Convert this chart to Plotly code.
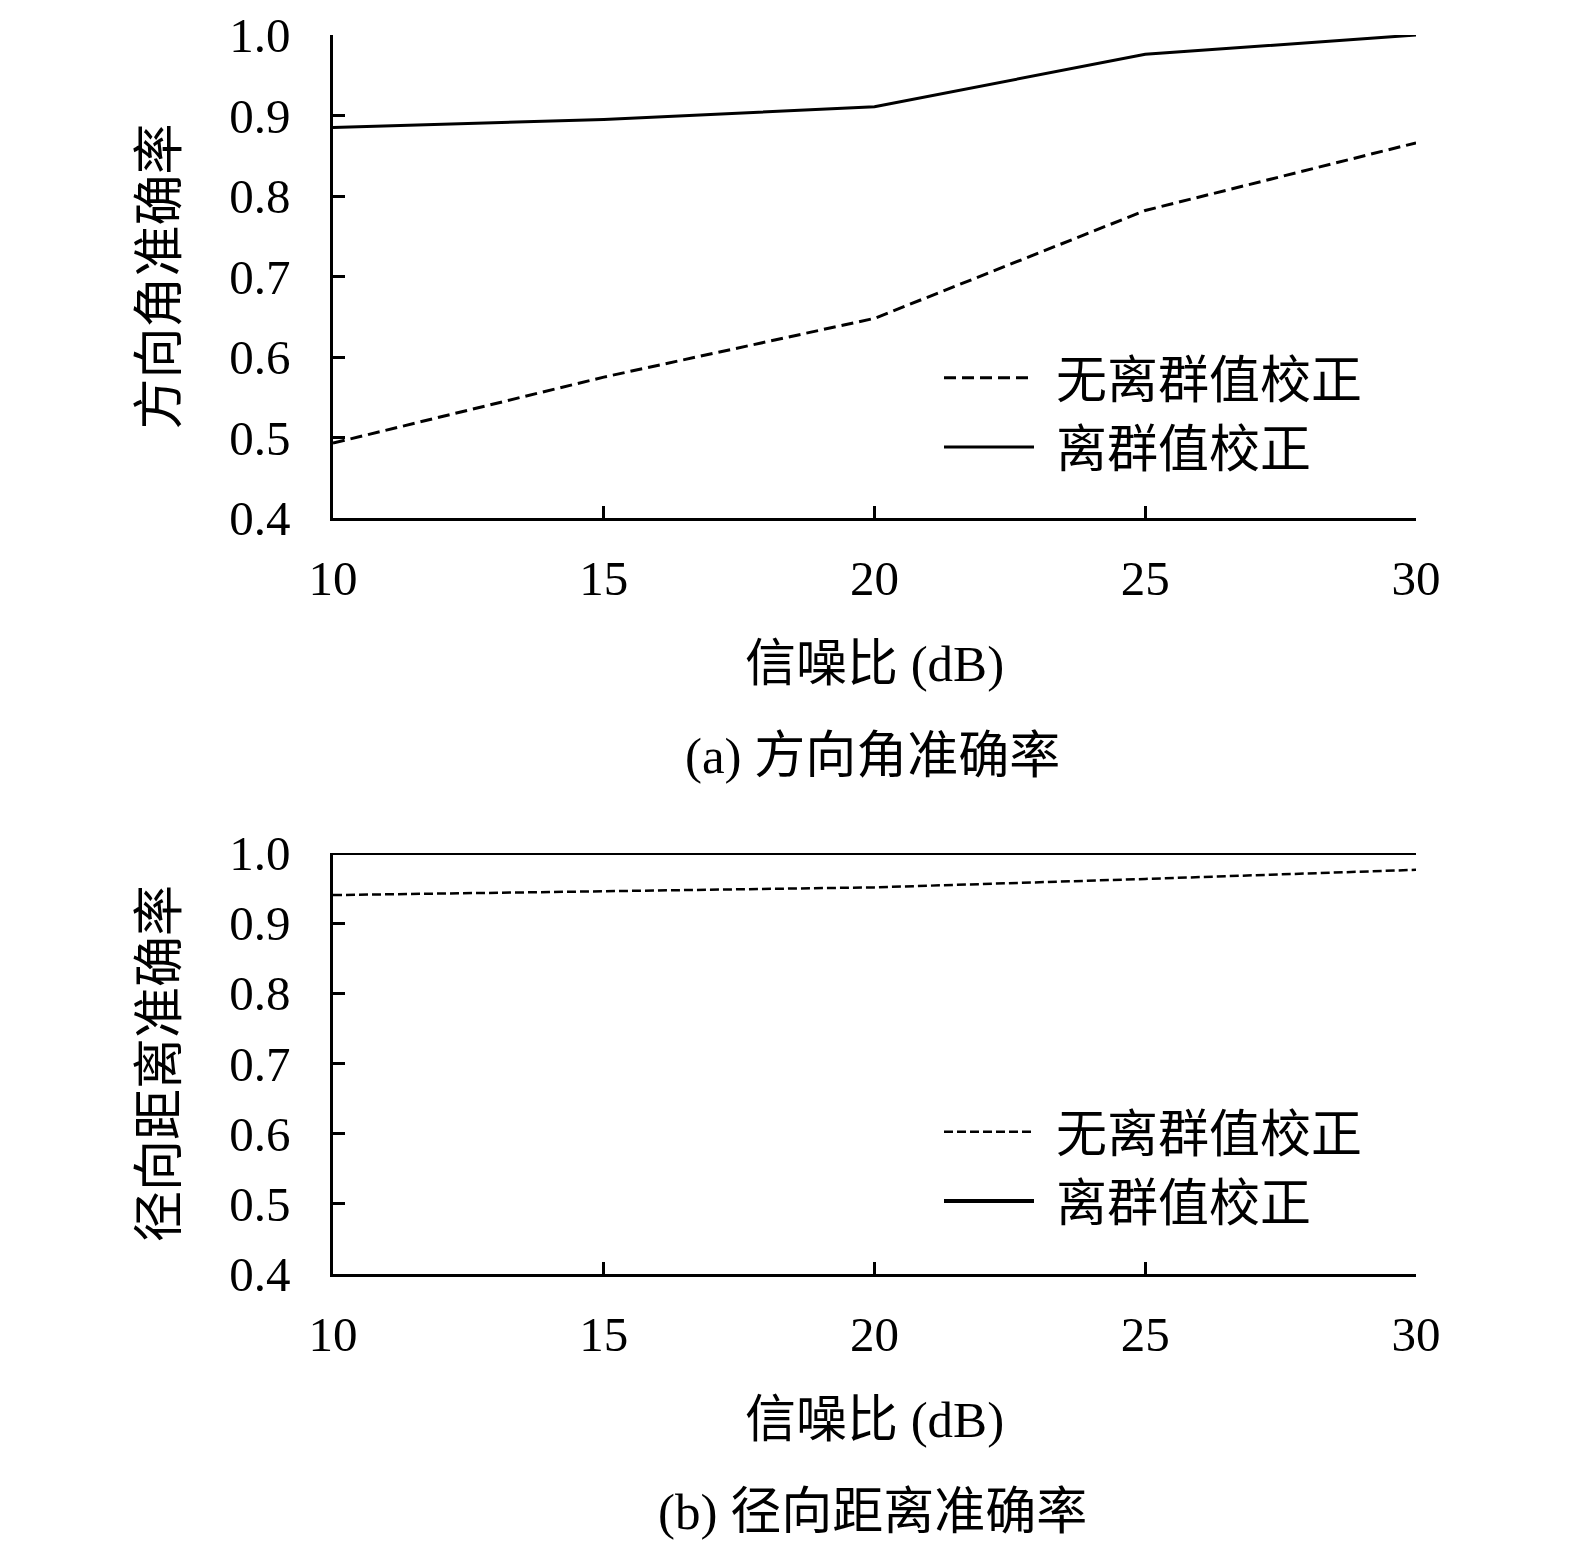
import plotly.graph_objects as go

# SNR (dB) on the x axis
snr = [10, 15, 20, 25, 30]

# (a) azimuth accuracy
az_no_fix = [0.493, 0.575, 0.648, 0.782, 0.866]
az_fix = [0.885, 0.895, 0.911, 0.976, 1.0]

# (b) radial distance accuracy
rd_no_fix = [0.940, 0.946, 0.951, 0.963, 0.976]
rd_fix = [1.0, 1.0, 1.0, 1.0, 1.0]

name_no_fix = "无离群值校正"
name_fix = "离群值校正"
x_title = "信噪比 (dB)"
y_title_a = "方向角准确率"
y_title_b = "径向距离准确率"
cap_a = "(a) 方向角准确率"
cap_b = "(b) 径向距离准确率"

W, H = 1575, 1554
FONT = "Liberation Serif, Noto Sans CJK SC, serif"
GAP = "\u2004"  # space between legend line and label


def px_x(p):
    return p / W


def px_y(p):
    return 1 - p / H


fig = go.Figure()

fig.add_trace(go.Scatter(x=snr, y=az_no_fix, name=GAP + name_no_fix, mode="lines",
                         line=dict(color="black", width=3, dash="12px,6px"),
                         xaxis="x", yaxis="y", legend="legend", cliponaxis=False))
fig.add_trace(go.Scatter(x=snr, y=az_fix, name=GAP + name_fix, mode="lines",
                         line=dict(color="black", width=3),
                         xaxis="x", yaxis="y", legend="legend", cliponaxis=False))
fig.add_trace(go.Scatter(x=snr, y=rd_no_fix, name=GAP + name_no_fix, mode="lines",
                         line=dict(color="black", width=2.5, dash="9px,4px"),
                         xaxis="x2", yaxis="y2", legend="legend2", cliponaxis=False))
fig.add_trace(go.Scatter(x=snr, y=rd_fix, name=GAP + name_fix, mode="lines",
                         line=dict(color="black", width=4),
                         xaxis="x2", yaxis="y2", legend="legend2", cliponaxis=False))

axis_common = dict(
    showline=True, linecolor="black", linewidth=2.5,
    ticks="inside", ticklen=12, tickwidth=2.5, tickcolor="black",
    showgrid=False, zeroline=False, automargin=False,
    tickfont=dict(family=FONT, size=49, color="black"),
)

xdom = [px_x(325), px_x(1408)]

fig.update_layout(
    width=W, height=H,
    margin=dict(l=0, r=0, t=0, b=0),
    paper_bgcolor="white", plot_bgcolor="white",
    font=dict(family=FONT, color="black"),
    xaxis=dict(axis_common, domain=xdom, anchor="y", range=[10, 30],
               tickvals=snr, ticklabelstandoff=15,
               title=dict(text=x_title, font=dict(size=51), standoff=41)),
    yaxis=dict(axis_common, domain=[px_y(510), px_y(27)], anchor="x",
               range=[0.4, 1.0], dtick=0.1, tickformat=".1f",
               ticklabelstandoff=30,
               title=dict(text=y_title_a, font=dict(size=51), standoff=36)),
    xaxis2=dict(axis_common, domain=xdom, anchor="y2", range=[10, 30],
                tickvals=snr, ticklabelstandoff=15,
                title=dict(text=x_title, font=dict(size=51), standoff=41)),
    yaxis2=dict(axis_common, domain=[px_y(1266), px_y(845)], anchor="x2",
                range=[0.4, 1.0], dtick=0.1, tickformat=".1f",
                ticklabelstandoff=30,
                title=dict(text=y_title_b, font=dict(size=51), standoff=36)),
    legend=dict(x=px_x(931), y=px_y(330), xanchor="left", yanchor="top",
                font=dict(size=51), bgcolor="rgba(0,0,0,0)", itemwidth=90),
    legend2=dict(x=px_x(931), y=px_y(1084), xanchor="left", yanchor="top",
                 font=dict(size=51), bgcolor="rgba(0,0,0,0)", itemwidth=90),
    showlegend=True,
)

fig.add_annotation(text=cap_a, xref="paper", yref="paper",
                   x=px_x(864), y=px_y(748), showarrow=False,
                   font=dict(size=51), xanchor="center", yanchor="middle")
fig.add_annotation(text=cap_b, xref="paper", yref="paper",
                   x=px_x(864), y=px_y(1504), showarrow=False,
                   font=dict(size=51), xanchor="center", yanchor="middle")

fig.write_html("out.html")
